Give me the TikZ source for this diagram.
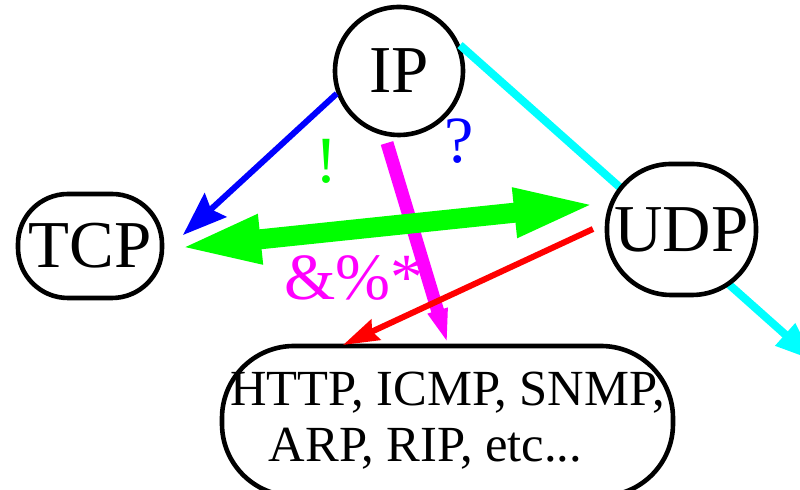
\documentclass[tikz,border=0pt]{standalone}
\usepackage{fontspec}
\setmainfont{Liberation Serif}
\usetikzlibrary{arrows.meta}
\begin{document}
\begin{tikzpicture}[x=0.5pt,y=-0.5pt,
  proto/.style={draw=black, line width=2.3pt, fill=white, inner sep=0pt,
    font=\fontsize{33.5}{40}\selectfont},
  lbl/.style={inner sep=0pt, anchor=base, font=\fontsize{33}{40}\selectfont},
  cyanline/.style={draw={rgb,255:red,0;green,255;blue,255}, line width=4pt,
    -{Triangle[length=20pt,width=14pt]}},
  blueline/.style={draw={rgb,255:red,0;green,0;blue,255}, line width=3pt,
    -{Stealth[length=22pt,width=16pt,inset=3pt]}},
  greenline/.style={draw={rgb,255:red,0;green,255;blue,0}, line width=10pt,
    {Triangle[length=42pt,width=22pt]}-{Triangle[length=42pt,width=22pt]}},
  magline/.style={draw={rgb,255:red,255;green,0;blue,255}, line width=6.5pt,
    -{Triangle[length=18pt,width=9pt]}},
  redline/.style={draw={rgb,255:red,255;green,0;blue,0}, line width=3pt,
    -{Stealth[length=18pt,width=11pt,inset=2pt]}}]
\useasboundingbox (0,0) rectangle (800,490);

\node[proto, circle, minimum size=64pt] (IP) at (399,71) {IP};
\coordinate (cyantip) at (815,361);
\draw[cyanline] (IP.23) -- (cyantip);

\node[proto, rounded corners=25pt, minimum width=72pt, minimum height=52pt] (TCP) at (90,246) {TCP};
\node[proto, rounded corners=32pt, minimum width=74.5pt, minimum height=65.5pt] (UDP) at (681.5,229.5) {UDP};
\node[proto, rounded corners=36pt, minimum width=225.5pt, minimum height=75pt,
  align=center, font=\fontsize{25.3}{28}\selectfont] (apps) at (447.5,421)
  {HTTP, ICMP, SNMP,\\ARP, RIP, etc...\hspace{22pt}\mbox{}};

\coordinate (magstart) at (387,143);
\coordinate (magtip) at (448,345);
\coordinate (greenleft) at (177,248);
\coordinate (greenright) at (598,204);
\coordinate (redstart) at (593,229);
\coordinate (redtip) at (343,345);
\coordinate (bluetip) at (183,235);

\draw[magline] (magstart) -- (magtip);
\draw[greenline] (greenleft) -- (greenright);
\draw[redline] (redstart) -- (redtip);
\draw[blueline] (IP.200) -- (bluetip);

\node[lbl, text={rgb,255:red,0;green,255;blue,0}] (bang) at (326,183) {!};
\node[lbl, text={rgb,255:red,0;green,0;blue,255}] (quest) at (459,163) {?};
\node[lbl, anchor=base west, text={rgb,255:red,255;green,0;blue,255}] (amp) at (284,300) {\&\%*};
\end{tikzpicture}
\end{document}
